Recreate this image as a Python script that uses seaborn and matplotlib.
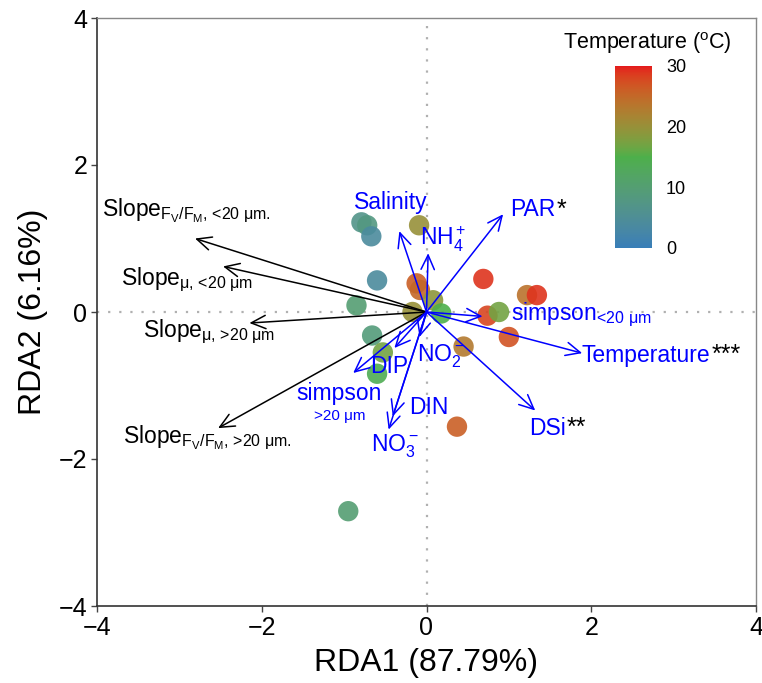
import numpy as np
import pandas as pd
import matplotlib
matplotlib.use("Agg")
import matplotlib.pyplot as plt
import seaborn as sns
from matplotlib.colors import ListedColormap, Normalize, to_rgb
from matplotlib.cm import ScalarMappable

# ---------------- data ----------------
site_rda1 = [-0.79, -0.72, -0.67, -0.09, -0.60, -0.85, -0.66, -0.53, -0.60, -0.95,
             -0.17, -0.12, -0.08, 0.08, 0.18, 0.69, 0.74, 0.88, 1.22, 1.34, 1.00, 0.45, 0.37]
site_rda2 = [1.22, 1.18, 1.03, 1.18, 0.43, 0.09, -0.32, -0.55, -0.84, -2.71,
             0.00, 0.39, 0.30, 0.16, -0.02, 0.45, -0.05, 0.00, 0.23, 0.23, -0.34, -0.47, -1.56]
site_temp = [7, 8, 4, 20, 4, 10, 9, 17, 14, 10,
             20, 26, 25, 19, 15, 29, 28, 17, 24, 29, 27, 23, 26]

env_names = ["Salinity", "NH4", "PAR", "simpson_lt20", "Temperature", "DSi",
             "NO3", "DIN", "DIP", "NO2", "simpson_gt20"]
env_rda1 = [-0.33, 0.02, 0.93, 0.68, 1.89, 1.32, -0.46, -0.41, -0.39, -0.085, -0.89]
env_rda2 = [1.10, 0.80, 1.33, -0.06, -0.56, -1.34, -1.60, -1.42, -0.49, -0.34, -0.83]
env_labels = ["Salinity", r"NH$_4^+$", "PAR", r"simpson$_{\text{<20 μm}}$", "Temperature", "DSi",
              r"NO$_3^-$", "DIN", "DIP", r"NO$_2^-$", "simpson"]
env_label_x = [-0.88, -0.08, 1.01, 1.03, 1.885, 1.24, -0.67, -0.21, -0.68, -0.12, -1.58]
env_label_y = [1.40, 0.91, 1.30, -0.11, -0.676, -1.67, -1.90, -1.39, -0.83, -0.68, -1.20]
env_signif = ["", "", "*", "", "***", "**", "", "", "", "", ""]

resp_rda1 = [-2.81, -2.47, -2.15, -2.53]
resp_rda2 = [1.00, 0.62, -0.15, -1.58]
resp_labels = [r"Slope$_{F_V/F_M\text{, <20 μm.}}$", r"Slope$_{\text{μ, <20 μm}}$",
               r"Slope$_{\text{μ, >20 μm}}$", r"Slope$_{F_V/F_M\text{, >20 μm.}}$"]
resp_label_x = [-3.94, -3.71, -3.44, -3.68]
resp_label_y = [1.31, 0.37, -0.34, -1.79]

axis_ticks = [-4, -2, 0, 2, 4]
cbar_ticks = [0, 10, 20, 30]
cbar_colors = ["#377EB8", "#4DAF4A", "#E41A1C"]

# ---------------- style ----------------
sns.set_style("white")
plt.rcParams["font.family"] = ["Liberation Sans", "DejaVu Sans"]
plt.rcParams["mathtext.fontset"] = "custom"
plt.rcParams["mathtext.rm"] = "Liberation Sans"
plt.rcParams["mathtext.it"] = "Liberation Sans"
plt.rcParams["mathtext.bf"] = "Liberation Sans:bold"
plt.rcParams["mathtext.sf"] = "Liberation Sans"
plt.rcParams["mathtext.default"] = "regular"
plt.rcParams["axes.unicode_minus"] = True
plt.rcParams["text.color"] = "black"
plt.rcParams["axes.labelcolor"] = "black"
plt.rcParams["xtick.color"] = "black"
plt.rcParams["ytick.color"] = "black"


# colour ramp interpolated in CIELAB (like ggplot2's gradientn)
def _srgb_to_lab(c):
    c = np.asarray(c, float)
    lin = np.where(c <= 0.04045, c / 12.92, ((c + 0.055) / 1.055) ** 2.4)
    M = np.array([[0.4124, 0.3576, 0.1805], [0.2126, 0.7152, 0.0722], [0.0193, 0.1192, 0.9505]])
    xyz = M @ lin / np.array([0.95047, 1.0, 1.08883])
    f = np.where(xyz > 0.008856, np.cbrt(xyz), 7.787 * xyz + 16 / 116)
    return np.array([116 * f[1] - 16, 500 * (f[0] - f[1]), 200 * (f[1] - f[2])])


def _lab_to_srgb(lab):
    L, a, b = lab
    fy = (L + 16) / 116
    fx = fy + a / 500
    fz = fy - b / 200
    f = np.array([fx, fy, fz])
    xyz = np.where(f ** 3 > 0.008856, f ** 3, (f - 16 / 116) / 7.787) * np.array([0.95047, 1.0, 1.08883])
    Minv = np.array([[3.2406, -1.5372, -0.4986], [-0.9689, 1.8758, 0.0415], [0.0557, -0.2040, 1.0570]])
    lin = np.clip(Minv @ xyz, 0, 1)
    return np.clip(np.where(lin <= 0.0031308, 12.92 * lin, 1.055 * lin ** (1 / 2.4) - 0.055), 0, 1)


labs = [_srgb_to_lab(to_rgb(c)) for c in cbar_colors]
ramp = []
for t in np.linspace(0, 1, 256):
    seg = min(int(t * (len(labs) - 1)), len(labs) - 2)
    u = t * (len(labs) - 1) - seg
    ramp.append(_lab_to_srgb(labs[seg] * (1 - u) + labs[seg + 1] * u))
cmap = ListedColormap(ramp)
norm = Normalize(vmin=cbar_ticks[0], vmax=cbar_ticks[-1])

fig = plt.figure(figsize=(7.62, 6.83), dpi=100)
ax = fig.add_axes([97 / 762, 1 - 606 / 683, (756 - 97) / 762, (606 - 18) / 683])

ax.axhline(0, color="#b0b0b0", lw=1.6, ls=(0, (1, 4)), zorder=1)
ax.axvline(0, color="#b0b0b0", lw=1.6, ls=(0, (1, 4)), zorder=1)

df = pd.DataFrame({"RDA1": site_rda1, "RDA2": site_rda2, "Temp": site_temp})
sns.scatterplot(data=df, x="RDA1", y="RDA2", hue="Temp", palette=cmap, hue_norm=norm,
                s=215, alpha=0.9, linewidth=0, legend=False, ax=ax, zorder=2)

arrow_style = "->,head_length=0.65,head_width=0.3"
for x, y in zip(resp_rda1, resp_rda2):
    ax.annotate("", xy=(x, y), xytext=(0, 0),
                arrowprops=dict(arrowstyle=arrow_style, color="black", lw=1.1,
                                mutation_scale=16, shrinkA=0, shrinkB=0), zorder=3)
for x, y in zip(env_rda1, env_rda2):
    ax.annotate("", xy=(x, y), xytext=(0, 0),
                arrowprops=dict(arrowstyle=arrow_style, color="blue", lw=1.1,
                                mutation_scale=16, shrinkA=0, shrinkB=0), zorder=4)

for lab, x, y in zip(resp_labels, resp_label_x, resp_label_y):
    ax.text(x, y, lab, color="black", fontsize=16.5, ha="left", va="baseline", zorder=5)

for lab, x, y, sig in zip(env_labels, env_label_x, env_label_y, env_signif):
    t = ax.text(x, y, lab, color="blue", fontsize=16.5, ha="left", va="baseline", zorder=5)
    if sig:
        ax.annotate(sig, xy=(1, 0), xycoords=t, xytext=(1, 0), textcoords="offset points",
                    fontsize=18, color="black", ha="left", va="bottom", zorder=5)
# size descriptor under "simpson" (>20 µm)
ax.text(-1.36, -1.47, ">20 μm", color="blue", fontsize=11, ha="left", va="baseline", zorder=5)

ax.set_xlim(-4, 4)
ax.set_ylim(-4, 4)
ax.set_xticks(axis_ticks)
ax.set_yticks(axis_ticks)
ax.set_xticklabels([f"{v}".replace("-", "\u2212") for v in axis_ticks])
ax.set_yticklabels([f"{v}".replace("-", "\u2212") for v in axis_ticks])
ax.tick_params(axis="both", labelsize=18, length=4, width=1, color="#444444",
               labelcolor="black", direction="out", bottom=True, left=True, pad=3)
ax.set_xlabel("RDA1 (87.79%)", fontsize=23, labelpad=6, color="black")
ax.set_ylabel("RDA2 (6.16%)", fontsize=23, labelpad=8, color="black")
for side in ["top", "right"]:
    ax.spines[side].set_color("#888888")
    ax.spines[side].set_linewidth(1.0)
for side in ["left", "bottom"]:
    ax.spines[side].set_color("#333333")
    ax.spines[side].set_linewidth(1.2)

# colorbar
cax = fig.add_axes([615 / 762, 1 - 248 / 683, 37 / 762, 182 / 683])
sm = ScalarMappable(norm=norm, cmap=cmap)
cb = fig.colorbar(sm, cax=cax, ticks=cbar_ticks)
cb.outline.set_visible(False)
cax.tick_params(axis="y", direction="in", color="white", length=4, width=1,
                left=True, right=True, labelsize=13, labelcolor="black", pad=10)
fig.text(647 / 762, 1 - 43 / 683, r"Temperature ($^{o}$C)", fontsize=15.5,
         ha="center", va="center", color="black")

fig.savefig("out.png", dpi=100)
